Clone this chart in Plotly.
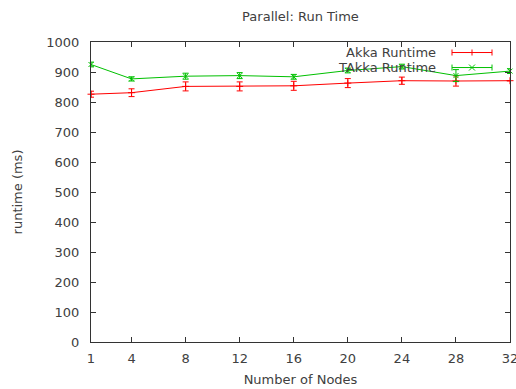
import plotly.graph_objects as go

nodes = [1, 4, 8, 12, 16, 20, 24, 28, 32]
akka_runtime = [826, 831, 852, 852, 854, 863, 871, 870, 871]
akka_err = [10, 13, 15, 15, 15, 15, 12, 17, 0]
takka_runtime = [925, 877, 886, 888, 884, 905, 918, 888, 903]
takka_err = [8, 7, 10, 10, 8, 8, 8, 20, 8]

x_ticks = [1, 4, 8, 12, 16, 20, 24, 28, 32]
y_ticks = list(range(0, 1001, 100))

RED = "#ff0000"
GREEN = "#00c000"
TXT = "#404040"
FONT = "DejaVu Sans"
FS = 13

fig = go.Figure()
fig.add_trace(go.Scatter(
    x=nodes, y=akka_runtime, mode="lines+markers", name="Akka Runtime",
    line=dict(color=RED, width=1),
    marker=dict(symbol="cross-thin", size=5, line=dict(color=RED, width=1)),
    error_y=dict(type="data", array=akka_err, color=RED, thickness=1, width=3),
    showlegend=False, cliponaxis=False,
))
fig.add_trace(go.Scatter(
    x=nodes, y=takka_runtime, mode="lines+markers", name="TAkka Runtime",
    line=dict(color=GREEN, width=1),
    marker=dict(symbol="x-thin", size=5, line=dict(color=GREEN, width=1)),
    error_y=dict(type="data", array=takka_err, color=GREEN, thickness=1, width=3),
    showlegend=False, cliponaxis=False,
))

# manual gnuplot-style legend (text left, sample right)
shapes = []
annotations = []
L = 452
R = 492
def px(xp):
    return (xp - 91) / 419.0
def py(yp):
    return (341.5 - yp) / 299.5

for label, color, ypix, sym in [("Akka Runtime", RED, 52.5, "+"), ("TAkka Runtime", GREEN, 67.5, "x")]:
    yv = py(ypix)
    shapes.append(dict(type="line", xref="paper", yref="paper", x0=px(L), x1=px(R), y0=yv, y1=yv,
                       line=dict(color=color, width=1)))
    for xe in (L, R):
        shapes.append(dict(type="line", xref="paper", yref="paper", x0=px(xe), x1=px(xe),
                           y0=py(ypix - 3), y1=py(ypix + 3), line=dict(color=color, width=1)))
    xm = (L + R) / 2
    if sym == "+":
        shapes.append(dict(type="line", xref="paper", yref="paper", x0=px(xm), x1=px(xm),
                           y0=py(ypix - 3), y1=py(ypix + 3), line=dict(color=color, width=1)))
    else:
        shapes.append(dict(type="line", xref="paper", yref="paper", x0=px(xm - 3), x1=px(xm + 3),
                           y0=py(ypix - 3), y1=py(ypix + 3), line=dict(color=color, width=1)))
        shapes.append(dict(type="line", xref="paper", yref="paper", x0=px(xm - 3), x1=px(xm + 3),
                           y0=py(ypix + 3), y1=py(ypix - 3), line=dict(color=color, width=1)))
    annotations.append(dict(text=label, xref="paper", yref="paper", x=px(438), y=yv,
                            xanchor="right", yanchor="middle", showarrow=False,
                            font=dict(family=FONT, size=FS, color=TXT)))

axis_common = dict(
    showline=True, linecolor="#333333", linewidth=1, mirror="ticks",
    ticks="inside", ticklen=5, tickcolor="#333333", showgrid=False, zeroline=False,
    tickfont=dict(family=FONT, size=FS, color=TXT), ticklabeloverflow="allow",
)

fig.update_layout(
    width=516, height=389,
    margin=dict(l=91, r=6, t=42, b=47, autoexpand=False),
    paper_bgcolor="white", plot_bgcolor="white",
    title=dict(text="Parallel: Run Time", x=(91 + 510) / 2 / 516, xanchor="center",
               y=1 - 16 / 389, yanchor="middle",
               font=dict(family=FONT, size=FS, color=TXT)),
    xaxis=dict(range=[1, 32], tickvals=x_ticks, ticktext=[str(t) for t in x_ticks],
               title=dict(text="Number of Nodes", standoff=10, font=dict(family=FONT, size=FS, color=TXT)),
               ticklabelstandoff=4, automargin=False, **axis_common),
    yaxis=dict(range=[0, 1000], tickvals=y_ticks,
               title=dict(text="runtime (ms)", standoff=20, font=dict(family=FONT, size=FS, color=TXT)),
               ticklabelstandoff=8, automargin=False, **axis_common),
    shapes=shapes, annotations=annotations,
)

fig.write_html("out.html")
